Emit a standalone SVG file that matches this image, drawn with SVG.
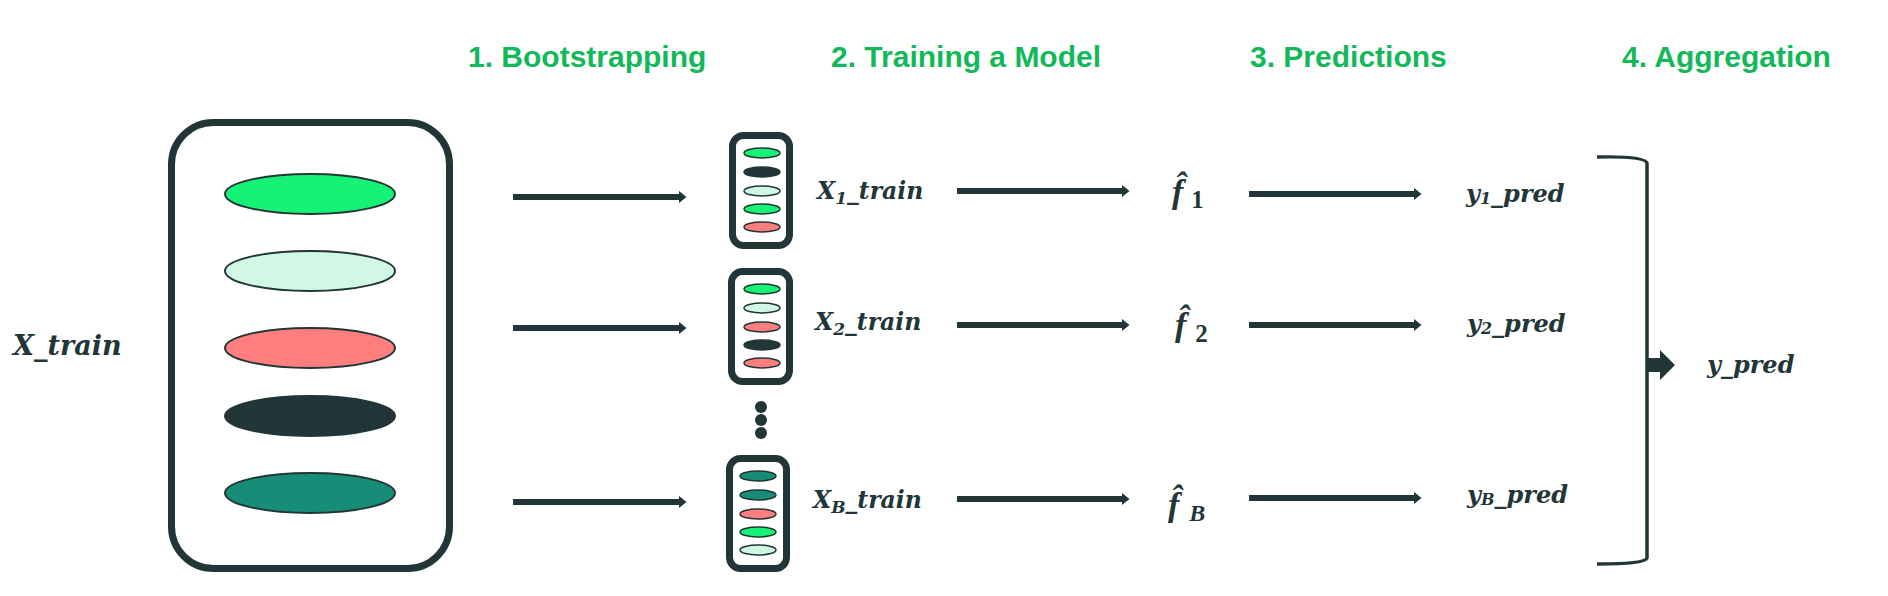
<svg xmlns="http://www.w3.org/2000/svg" width="1888" height="596" viewBox="0 0 1888 596">
<style>
.title{font-family:"Liberation Sans",Arial,sans-serif;font-weight:bold;font-size:30px;fill:#12B85A}
.math{font-family:"DejaVu Serif",serif;font-weight:bold;font-style:italic;fill:#223537}
.fh{font-family:"Liberation Serif","Times New Roman",serif;font-weight:bold;font-style:italic;fill:#223537;font-size:34px}
.up{font-style:normal;font-size:25px}
.box{fill:#fff;stroke:#223537}
.el{stroke:#223537}
.g1{fill:#16F276}.g2{fill:#D1F8E4}.g3{fill:#FF7F7F}.g4{fill:#223537}.g5{fill:#178C77}
.arr{stroke:#223537;stroke-width:6;fill:none;marker-end:url(#ah)}
</style>
<defs>
<marker id="ah" markerUnits="userSpaceOnUse" viewBox="0 0 8 13" refX="0.5" refY="6.5" markerWidth="8" markerHeight="13" orient="auto">
<path d="M0,0 L8,6.5 L0,13 Z" fill="#223537"/>
</marker>
</defs>
<rect width="1888" height="596" fill="#fff"/>

<g id="titles">
<text class="title" x="468" y="67">1. Bootstrapping</text>
<text class="title" x="831" y="67">2. Training a Model</text>
<text class="title" x="1250" y="67">3. Predictions</text>
<text class="title" x="1622" y="67">4. Aggregation</text>
</g>

<g id="xtrain-label">
<text class="math" x="13" y="355" font-size="27">X_train</text>
</g>

<g id="xtrain">
<rect class="box" x="171.5" y="122.5" width="278" height="446" rx="42" stroke-width="7"/>
<g class="el" stroke-width="2">
<ellipse class="g1" cx="310" cy="194" rx="85" ry="20"/>
<ellipse class="g2" cx="310" cy="271" rx="85" ry="20"/>
<ellipse class="g3" cx="310" cy="348" rx="85" ry="20"/>
<ellipse class="g4" cx="310" cy="416" rx="85" ry="20"/>
<ellipse class="g5" cx="310" cy="493" rx="85" ry="20"/>
</g>
</g>

<g id="sample1">
<rect class="box" x="732.5" y="135.5" width="57" height="110" rx="11" stroke-width="7"/>
<g class="el" stroke-width="1.5">
<ellipse class="g1" cx="762" cy="153" rx="18" ry="5"/>
<ellipse class="g4" cx="762" cy="172" rx="18" ry="5"/>
<ellipse class="g2" cx="762" cy="191" rx="18" ry="5"/>
<ellipse class="g1" cx="762" cy="209" rx="18" ry="5"/>
<ellipse class="g3" cx="762" cy="227" rx="18" ry="5"/>
</g>
</g>

<g id="sample2">
<rect class="box" x="731.5" y="271.5" width="58" height="110" rx="11" stroke-width="7"/>
<g class="el" stroke-width="1.5">
<ellipse class="g1" cx="762" cy="289" rx="18" ry="5"/>
<ellipse class="g2" cx="762" cy="308" rx="18" ry="5"/>
<ellipse class="g3" cx="762" cy="327" rx="18" ry="5"/>
<ellipse class="g4" cx="762" cy="345" rx="18" ry="5"/>
<ellipse class="g3" cx="762" cy="363" rx="18" ry="5"/>
</g>
</g>

<g id="dots" fill="#223537">
<circle cx="761" cy="407" r="6"/>
<circle cx="761" cy="420" r="6"/>
<circle cx="761" cy="433" r="6"/>
</g>

<g id="sampleB">
<rect class="box" x="729.5" y="458.5" width="57" height="110" rx="11" stroke-width="7"/>
<g class="el" stroke-width="1.5">
<ellipse class="g5" cx="758" cy="476" rx="18" ry="5"/>
<ellipse class="g5" cx="758" cy="495" rx="18" ry="5"/>
<ellipse class="g3" cx="758" cy="514" rx="18" ry="5"/>
<ellipse class="g1" cx="758" cy="532" rx="18" ry="5"/>
<ellipse class="g2" cx="758" cy="550" rx="18" ry="5"/>
</g>
</g>

<g id="sample-labels">
<text class="math" x="817" y="199" font-size="23.5">X<tspan font-size="17" dy="5">1</tspan><tspan dy="-5">_train</tspan></text>
<text class="math" x="815" y="330" font-size="23.5">X<tspan font-size="17" dy="5">2</tspan><tspan dy="-5">_train</tspan></text>
<text class="math" x="813" y="508" font-size="23.5">X<tspan font-size="17" dy="5">B</tspan><tspan dy="-5">_train</tspan></text>
</g>

<g id="models">
<text class="fh" x="1172" y="203">f̂<tspan class="up" dx="8" dy="5">1</tspan></text>
<text class="fh" x="1175" y="336">f̂<tspan class="up" dx="9" dy="6">2</tspan></text>
<text class="fh" x="1168" y="516">f̂<tspan font-size="24" dx="10" dy="5">B</tspan></text>
</g>

<g id="preds">
<text class="math" x="1466" y="202" font-size="24">y<tspan font-size="16" dy="2">1</tspan><tspan dy="-2">_pred</tspan></text>
<text class="math" x="1467" y="332" font-size="24">y<tspan font-size="16" dy="2">2</tspan><tspan dy="-2">_pred</tspan></text>
<text class="math" x="1467" y="503" font-size="24">y<tspan font-size="16" dy="2">B</tspan><tspan dy="-2">_pred</tspan></text>
</g>

<g id="ypred">
<text class="math" x="1707" y="373" font-size="24">y_pred</text>
</g>

<g id="connectors">
<line class="arr" x1="513" y1="197" x2="679" y2="197"/>
<line class="arr" x1="513" y1="328" x2="679" y2="328"/>
<line class="arr" x1="513" y1="502" x2="679" y2="502"/>
<line class="arr" x1="957" y1="191" x2="1122" y2="191"/>
<line class="arr" x1="957" y1="325" x2="1122" y2="325"/>
<line class="arr" x1="957" y1="499" x2="1122" y2="499"/>
<line class="arr" x1="1249" y1="194" x2="1414" y2="194"/>
<line class="arr" x1="1249" y1="325" x2="1414" y2="325"/>
<line class="arr" x1="1249" y1="498" x2="1414" y2="498"/>
<path d="M1597,157 Q1645,156 1647,163 L1647,558 Q1645,564 1597,564" fill="none" stroke="#223537" stroke-width="3.5"/>
<path d="M1647,358 L1660,358 L1660,350 L1675,365 L1660,380 L1660,372 L1647,372 Z" fill="#223537"/>
</g>
</svg>
